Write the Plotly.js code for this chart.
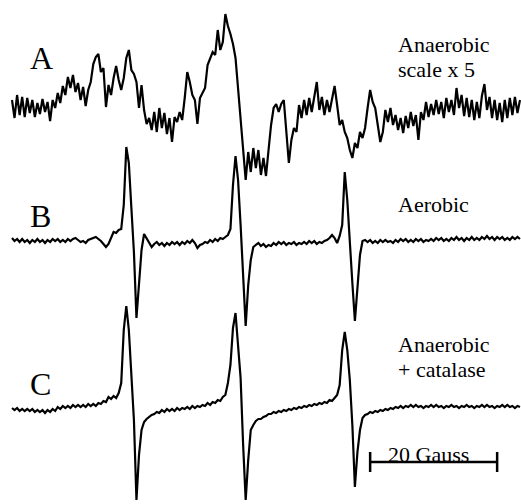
<!DOCTYPE html>
<html>
<head>
<meta charset="utf-8">
<script src="https://cdn.plot.ly/plotly-3.0.1.min.js"></script>
<style>
  html, body { margin: 0; padding: 0; background: #ffffff; }
  #chart { width: 521px; height: 504px; }
</style>
</head>
<body>
<div id="chart"></div>
<script>
// EPR field sweep (Gauss): first point and step between recorded points
const fieldStart = 0;
const fieldStep = 0.4;

// Spectrum A: anaerobic sample (displayed at 5x gain)
const spectrumA = [
  0,-18,5,-15,3,-17,2,-13,0,-17,
  -3,-14,1,-12,-2,-21,0,-8,7,-3,
  14,5,23,12,25,8,17,0,13,-6,
  10,18,36,43,46,28,32,-7,15,5,
  22,34,20,10,22,42,50,30,26,18,
  -8,15,-10,-24,-18,-30,-12,-32,-8,-28,
  -13,-34,-18,-42,-17,-22,-12,-20,2,28,
  18,5,0,-24,2,7,12,35,42,48,
  45,70,50,58,86,74,66,56,42,12,
  -20,-50,-80,-52,-72,-48,-68,-50,-75,-58,
  -76,-50,-25,-8,-4,-12,-4,0,-35,-63,
  -40,-28,-32,-5,-18,0,-15,2,-12,4,
  18,-10,3,-15,0,-12,2,14,-5,-25,
  -20,-32,-38,-50,-58,-43,-48,-32,-38,-28,
  -8,10,-2,-8,-25,-42,-32,-10,-22,-8,
  -25,-15,-30,-18,-33,-16,-28,-12,-26,-15,
  -40,-12,-20,-2,-17,-4,-15,0,-14,-2,
  -18,2,-12,0,-15,12,-8,5,-16,2,
  -17,0,-20,-2,-18,4,16,-10,3,-18,
  0,-20,-3,-22,0,-18,2,-15,3,-13,
  0
];

// Spectrum B: aerobic sample
const spectrumB = [
  2,-1,1,-2,1,-2,0,-3,0,-2,
  1,-2,0,-3,0,-2,1,-1,1,-2,
  0,-2,1,-1,1,2,0,-2,-1,-3,
  0,1,2,3,1,-1,-4,-7,-4,2,
  8,7,10,11,35,93,77,32,-12,-78,
  -45,-10,6,2,-3,-7,-4,-2,-5,-3,
  -6,-3,-5,-2,-4,-2,-5,-2,-4,-1,
  -3,0,-3,-8,-5,-4,-2,-3,0,-2,
  1,-1,2,1,3,5,11,55,84,60,
  15,-40,-86,-45,-20,-7,-5,-3,-6,-4,
  -7,-5,-6,-3,-5,-2,-4,-2,-5,-3,
  -4,-2,-5,-3,-4,-2,-4,-1,-3,-1,
  -4,-2,-3,-1,0,2,5,2,-3,4,
  15,68,40,-5,-43,-81,-50,-15,-1,0,
  -2,0,-3,-1,-3,0,-2,0,-2,-1,
  -3,0,-2,1,-1,1,-2,0,-2,1,
  -1,1,-2,0,-1,1,-1,2,0,2,
  -1,1,-1,2,0,3,0,2,-1,2,
  0,3,0,2,0,3,1,4,1,3,
  0,3,1,3,0,2,0,3,1,3,
  1
];

// Spectrum C: anaerobic sample with catalase
const spectrumC = [
  0,-2,0,-3,-1,-3,-1,-3,-1,-4,
  -2,-4,-2,-5,-2,-4,-1,-3,1,-1,
  2,0,2,0,3,1,3,1,3,1,
  4,2,4,2,5,4,7,6,11,9,
  12,10,15,25,78,102,78,38,-12,-92,
  -47,-22,-14,-11,-9,-7,-6,-4,-5,-2,
  -4,-1,-3,-1,-3,0,-2,0,-1,1,
  -1,2,0,2,1,3,2,5,3,6,
  5,8,7,11,13,25,43,80,95,63,
  30,-37,-92,-52,-22,-17,-13,-11,-11,-9,
  -8,-6,-6,-4,-5,-3,-4,-2,-3,-1,
  -2,0,-1,1,0,2,1,3,2,4,
  3,5,4,6,5,8,7,10,13,23,
  58,76,58,28,-17,-79,-44,-22,-10,-7,
  -6,-4,-5,-3,-4,-2,-3,-1,-2,0,
  -1,1,0,2,0,2,1,3,1,3,
  1,2,0,2,1,3,1,3,1,2,
  0,2,1,3,1,2,0,2,1,3,
  1,2,0,2,1,3,1,3,1,2,
  0,2,1,3,1,3,1,2,0,2,
  1
];

const traceLabels = ['A', 'B', 'C'];
const conditionLabels = [['Anaerobic', 'scale x 5'], ['Aerobic'], ['Anaerobic', '+ catalase']];
const scaleBarGauss = 20;
const scaleBarText = '20 Gauss';

// ---- drawing ----
const W = 521, H = 504;
const serif = "'Liberation Serif', 'DejaVu Serif', serif";
const spectra = [spectrumA, spectrumB, spectrumC];
const offsets = [-100, -240, -408];          // vertical stacking of the three spectra
const widths = [2.2, 2.2, 2.2];
const fieldAt = arr => arr.map((_, i) => fieldStart + i * fieldStep);

const traces = spectra.map((s, k) => ({
  x: fieldAt(s),
  y: s.map(v => v + offsets[k]),
  mode: 'lines',
  line: { color: '#000000', width: widths[k] },
  hoverinfo: 'skip'
}));

// 20 G scale bar with end ticks
const barStart = 56.4, barY = -462, tickHalf = 10;
const barEnd = barStart + scaleBarGauss;
traces.push({
  x: [barStart, barStart, null, barStart, barEnd, null, barEnd, barEnd],
  y: [barY - tickHalf, barY + tickHalf, null, barY, barY, null, barY - tickHalf, barY + tickHalf],
  mode: 'lines',
  line: { color: '#000000', width: 2.5 },
  hoverinfo: 'skip'
});

const px = x => x / W;
const py = y => 1 - y / H;
const annotations = [];
const letterY = [58, 216, 384];
traceLabels.forEach((t, k) => annotations.push({
  text: t, xref: 'paper', yref: 'paper', x: px(28), y: py(letterY[k]),
  xanchor: 'left', yanchor: 'middle', showarrow: false,
  font: { family: serif, size: 32, color: '#000000' }
}));
const condY = [[44.5, 69.5], [204.5], [344.5, 369.5]];
conditionLabels.forEach((lines, k) => lines.forEach((t, j) => annotations.push({
  text: t, xref: 'paper', yref: 'paper', x: px(396), y: py(condY[k][j]),
  xanchor: 'left', yanchor: 'middle', showarrow: false,
  font: { family: serif, size: 22, color: '#000000' }
})));
annotations.push({
  text: scaleBarText, xref: 'paper', yref: 'paper', x: px(386), y: py(454.5),
  xanchor: 'left', yanchor: 'middle', showarrow: false,
  font: { family: serif, size: 22, color: '#000000' }
});

const layout = {
  width: W, height: H,
  margin: { l: 0, r: 0, t: 0, b: 0, pad: 0 },
  paper_bgcolor: '#ffffff', plot_bgcolor: '#ffffff',
  showlegend: false,
  xaxis: { range: [-12 / 6.35, (W - 12) / 6.35], visible: false, fixedrange: true },
  yaxis: { range: [-H, 0], visible: false, fixedrange: true },
  annotations: annotations
};

Plotly.newPlot('chart', traces, layout, { staticPlot: true, displayModeBar: false });
</script>
</body>
</html>
